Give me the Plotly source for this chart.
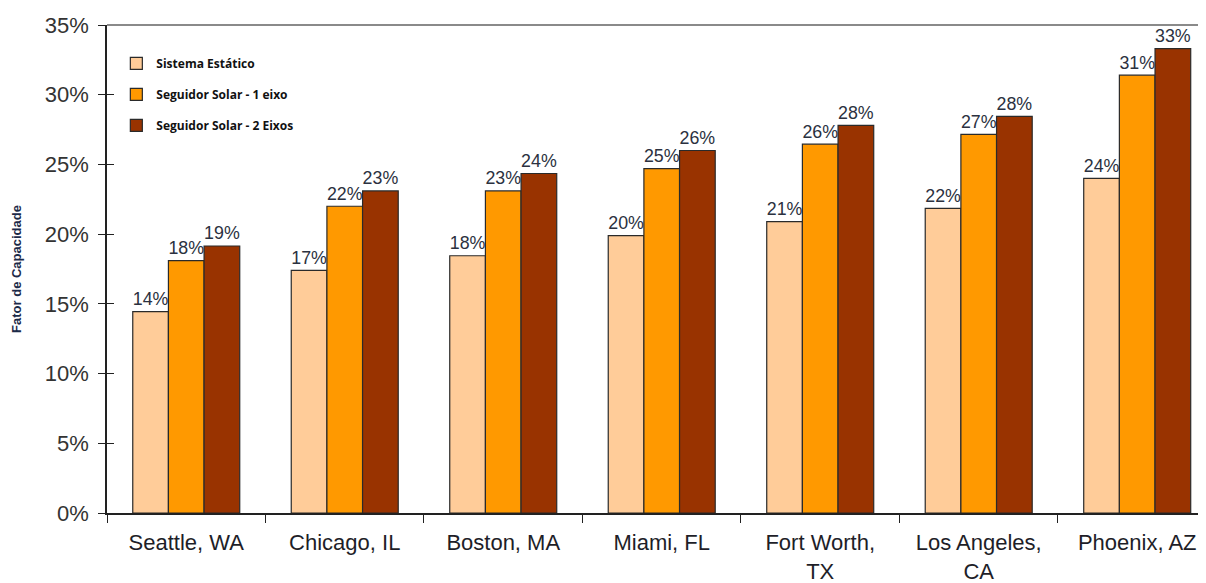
import plotly.graph_objects as go

cities = ["Seattle, WA", "Chicago, IL", "Boston, MA", "Miami, FL",
          "Fort Worth,<br>TX", "Los Angeles,<br>CA", "Phoenix, AZ"]
series_names = ["Sistema Estático", "Seguidor Solar - 1 eixo", "Seguidor Solar - 2 Eixos"]
estatico = [14.45, 17.4, 18.45, 19.9, 20.9, 21.85, 24.0]
um_eixo = [18.1, 22.0, 23.1, 24.7, 26.45, 27.15, 31.4]
dois_eixos = [19.15, 23.1, 24.35, 26.0, 27.8, 28.45, 33.3]
colors = ["#FFCC99", "#FF9900", "#993300"]
y_ticks = [0, 5, 10, 15, 20, 25, 30, 35]

fig = go.Figure()
for i, (name, vals) in enumerate(zip(series_names, [estatico, um_eixo, dois_eixos])):
    fig.add_trace(go.Bar(
        x=cities, y=vals, name=name, legendgroup=f"g{i}",
        marker=dict(color=colors[i], line=dict(color="#2a2a2a", width=1.2)),
        texttemplate="%{y:.0f}%", textposition="outside", cliponaxis=False,
        textfont=dict(family="Liberation Sans, Arial", size=19.5, color="#2b3140"),
    ))

# invisible trace to provide inside ticks on the y axis
fig.add_trace(go.Scatter(x=[cities[0]], y=[0], yaxis="y2", mode="markers",
                         marker=dict(opacity=0), showlegend=False, hoverinfo="skip"))

fig.update_layout(
    width=1198, height=575,
    margin=dict(l=99, r=0, t=17, b=70),
    plot_bgcolor="white", paper_bgcolor="white",
    barmode="group", bargap=0.325, bargroupgap=0,
    font=dict(family="Liberation Sans, Arial", color="#333333"),
    xaxis=dict(
        range=[-0.5, 6.434], showgrid=False, showline=True, linecolor="#222222", linewidth=1.5,
        ticks="outside", tickson="boundaries", ticklen=8, tickcolor="#222222", tickwidth=1.2,
        tickfont=dict(family="Liberation Sans, Arial", size=22, color="#1e1e28"),
        ticklabelstandoff=9, zeroline=False, automargin=False,
    ),
    yaxis=dict(
        range=[0, 35], tickvals=y_ticks, ticktext=[f"{v}%" for v in y_ticks],
        showgrid=False, showline=True, linecolor="#222222", linewidth=1.5,
        ticks="outside", ticklen=7, tickcolor="#222222", tickwidth=1.2,
        tickfont=dict(family="Liberation Sans, Arial", size=22, color="#333333"),
        ticklabelstandoff=5, zeroline=False, automargin=False,
        title=dict(text="<b>Fator de Capacidade</b>", standoff=20,
                   font=dict(family="Liberation Sans, Arial", size=13, color="#1c2a48")),
    ),
    yaxis2=dict(
        range=[0, 35], tickvals=y_ticks, overlaying="y", side="left",
        showticklabels=False, showgrid=False, showline=False,
        ticks="inside", ticklen=7, tickcolor="#222222", tickwidth=1.2, zeroline=False,
    ),
    legend=dict(
        x=0.0085, y=0.951, xanchor="left", yanchor="top",
        bgcolor="rgba(0,0,0,0)", traceorder="grouped", tracegroupgap=12,
        font=dict(family="Open Sans", size=12, color="#111111", weight="bold"),
    ),
    shapes=[dict(type="line", xref="paper", yref="paper", x0=0, x1=1, y0=1, y1=1,
                 line=dict(color="#8a8a8a", width=2), layer="below")],
    showlegend=True,
)

fig.write_html("out.html")
